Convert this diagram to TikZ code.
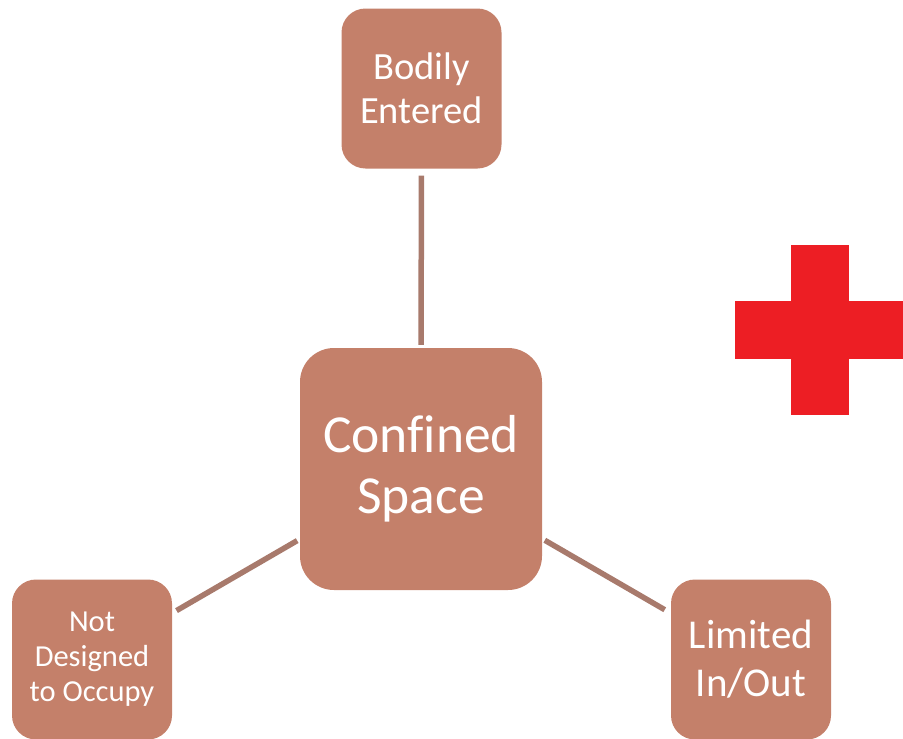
\documentclass[tikz,border=0pt]{standalone}
\usepackage{fontspec}
\setmainfont[Ligatures=NoCommon]{Carlito}
\definecolor{boxfill}{RGB}{196,128,106}
\definecolor{linkcol}{RGB}{168,122,108}
\definecolor{crossred}{RGB}{237,30,36}
\begin{document}
\begin{tikzpicture}[x=1pt,y=-1pt,
  topic/.style={draw=none,fill=boxfill,rounded corners=24pt,minimum width=160pt,
    minimum height=160pt,inner sep=0pt,align=center,text=white},
  hub/.style={topic,rounded corners=34pt,minimum width=242pt,minimum height=242pt},
  link/.style={draw=linkcol,line width=5.5pt}]
\useasboundingbox (0,0) rectangle (903,739);
% central concept and its three conditions
\node[hub,font=\fontsize{53.5}{61}\selectfont] (cs) at (421,469) {Confined\\Space};
\node[topic,font=\fontsize{38.5}{44}\selectfont] (be) at (421.5,88.5) {Bodily\\Entered};
\node[topic,font=\fontsize{30.5}{35}\selectfont] (nd) at (92,659.5) {Not\\Designed\\to Occupy};
\node[topic,font=\fontsize{41}{48}\selectfont] (lm) at (751,659.5) {Limited\\In/Out};
% connectors
\draw[link,shorten <=7pt,shorten >=3pt] (be.south) -- (cs.north);
\draw[link,shorten <=5pt,shorten >=3pt] (nd) -- (cs);
\draw[link,shorten <=7pt,shorten >=3pt] (lm) -- (cs);
% red cross
\fill[crossred] (791,245) rectangle (849,415);
\fill[crossred] (735,301) rectangle (903,359);
\end{tikzpicture}
\end{document}
